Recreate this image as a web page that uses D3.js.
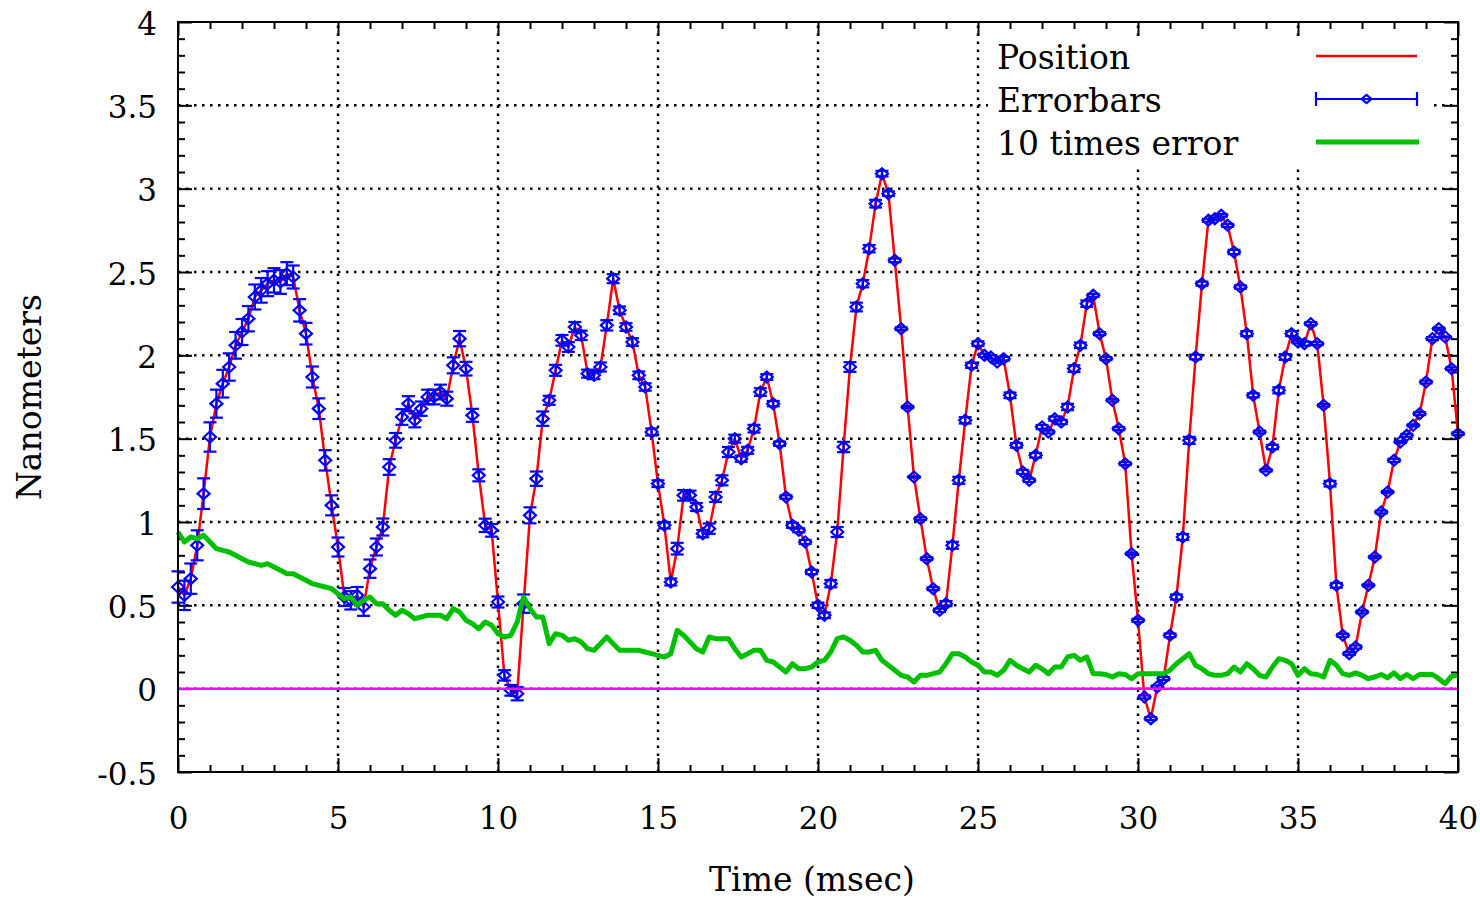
<!DOCTYPE html>
<html>
<head>
<meta charset="utf-8">
<script src="https://cdn.jsdelivr.net/npm/d3@7"></script>
<style>
  html, body { margin: 0; padding: 0; background: #fff; }
  svg { display: block; }
</style>
</head>
<body>
<script>
// ---------------- data ----------------
const timeStep = 0.2; // msec between samples (samples run 0 .. 40 msec)

const position = [
  0.61,0.56,0.66,0.86,1.17,1.51,1.71,1.83,1.93,2.06,
  2.14,2.22,2.35,2.39,2.43,2.45,2.44,2.49,2.47,2.27,
  2.13,1.87,1.68,1.37,1.10,0.85,0.55,0.53,0.56,0.49,
  0.72,0.85,0.97,1.33,1.49,1.63,1.71,1.61,1.68,1.75,
  1.75,1.78,1.74,1.94,2.10,1.92,1.64,1.28,0.98,0.95,
  0.52,0.08,-0.01,-0.03,0.51,1.04,1.26,1.62,1.73,1.91,
  2.09,2.05,2.17,2.12,1.89,1.88,1.93,2.18,2.46,2.27,
  2.17,2.08,1.88,1.81,1.54,1.23,0.98,0.64,0.84,1.16,
  1.16,1.09,0.93,0.96,1.15,1.25,1.42,1.50,1.38,1.43,
  1.56,1.78,1.87,1.71,1.47,1.15,0.98,0.95,0.88,0.70,
  0.50,0.44,0.63,0.94,1.45,1.93,2.29,2.43,2.64,2.91,
  3.09,2.97,2.57,2.16,1.69,1.27,1.02,0.78,0.60,0.47,
  0.51,0.86,1.25,1.61,1.94,2.07,2.00,1.99,1.96,1.98,
  1.76,1.46,1.30,1.25,1.40,1.57,1.54,1.62,1.60,1.69,
  1.92,2.06,2.31,2.36,2.13,1.98,1.73,1.56,1.35,0.81,
  0.41,-0.05,-0.18,0.01,0.06,0.32,0.55,0.91,1.49,1.99,
  2.43,2.81,2.82,2.84,2.78,2.62,2.41,2.13,1.76,1.54,
  1.31,1.45,1.79,1.99,2.13,2.08,2.07,2.19,2.07,1.70,
  1.23,0.62,0.32,0.21,0.25,0.46,0.62,0.79,1.06,1.18,
  1.37,1.48,1.52,1.58,1.65,1.84,2.10,2.16,2.11,1.92,
  1.53
];

// "10 times error" curve (error bars are one tenth of it)
const tenTimesError = [
  0.94,0.88,0.91,0.90,0.92,0.88,0.84,0.83,0.82,0.80,
  0.78,0.76,0.75,0.74,0.75,0.73,0.71,0.69,0.69,0.67,
  0.65,0.63,0.62,0.61,0.60,0.57,0.54,0.55,0.50,0.53,
  0.55,0.51,0.51,0.47,0.44,0.47,0.45,0.42,0.43,0.44,
  0.44,0.44,0.42,0.48,0.46,0.41,0.39,0.36,0.40,0.38,
  0.33,0.31,0.32,0.40,0.55,0.48,0.43,0.43,0.27,0.33,
  0.32,0.29,0.30,0.28,0.24,0.23,0.27,0.31,0.27,0.23,
  0.23,0.23,0.23,0.22,0.21,0.20,0.19,0.21,0.35,0.32,
  0.28,0.24,0.22,0.31,0.30,0.30,0.30,0.24,0.19,0.21,
  0.23,0.23,0.17,0.16,0.13,0.10,0.15,0.12,0.12,0.13,
  0.16,0.17,0.22,0.30,0.31,0.29,0.26,0.22,0.22,0.23,
  0.17,0.14,0.11,0.08,0.07,0.04,0.08,0.08,0.09,0.10,
  0.15,0.21,0.21,0.19,0.16,0.14,0.10,0.10,0.08,0.11,
  0.17,0.14,0.12,0.10,0.14,0.12,0.09,0.13,0.13,0.19,
  0.20,0.17,0.19,0.09,0.09,0.085,0.07,0.09,0.085,0.06,
  0.09,0.09,0.09,0.09,0.09,0.11,0.15,0.18,0.21,0.14,
  0.12,0.09,0.08,0.08,0.09,0.13,0.10,0.15,0.12,0.08,
  0.07,0.13,0.18,0.17,0.15,0.08,0.12,0.09,0.085,0.07,
  0.17,0.14,0.09,0.08,0.095,0.08,0.06,0.07,0.085,0.065,
  0.095,0.06,0.085,0.06,0.085,0.085,0.085,0.06,0.03,0.075,
  0.08
];

const xTicks = [0, 5, 10, 15, 20, 25, 30, 35, 40];
const xTickLabels = ["0", "5", "10", "15", "20", "25", "30", "35", "40"];
const yTicks = [-0.5, 0, 0.5, 1, 1.5, 2, 2.5, 3, 3.5, 4];
const yTickLabels = ["-0.5", "0", "0.5", "1", "1.5", "2", "2.5", "3", "3.5", "4"];
const legendLabels = ["Position", "Errorbars", "10 times error"];
const xTitle = "Time (msec)";
const yTitle = "Nanometers";

// ---------------- layout ----------------
const W = 1480, H = 900;
const L = 178, R = 1458, T = 22, B = 772;
const FONT = "'DejaVu Serif', serif";
const RED = "#ff0000", BLUE = "#0000ff", GREEN = "#00c000", MAGENTA = "#ff00ff";

const data = position.map((v, i) => ({ t: i * timeStep, v, e: tenTimesError[i] / 10, g: tenTimesError[i] }));

const svg = d3.select("body").append("svg").attr("width", W).attr("height", H);
svg.append("rect").attr("width", W).attr("height", H).attr("fill", "#fff");

const x = d3.scaleLinear().domain([0, 40]).range([L, R]);
const y = d3.scaleLinear().domain([-0.5, 4]).range([B, T]);

// ---------------- grid ----------------
const grid = svg.append("g").attr("stroke", "#000").attr("stroke-width", 2.5).attr("stroke-dasharray", "2.5,5.5");
grid.selectAll("line.gx").data(xTicks.filter(d => d > 0 && d < 40)).join("line")
  .attr("x1", d => x(d)).attr("x2", d => x(d)).attr("y1", B).attr("y2", T);
grid.selectAll("line.gy").data(yTicks.filter(d => d > -0.5 && d < 4)).join("line")
  .attr("x1", L).attr("x2", R).attr("y1", d => y(d)).attr("y2", d => y(d));

// legend area is opaque over the grid
svg.append("rect").attr("x", 988).attr("y", 36).attr("width", 442).attr("height", 128).attr("fill", "#fff");

// ---------------- axes (inward ticks) ----------------
const yMinor = d3.range(-5, 41).map(k => k / 10).filter(v => Math.abs(v * 2 - Math.round(v * 2)) > 1e-6);
const xMinor = d3.range(0, 41).filter(v => v % 5 !== 0);

function styleAxis(g) {
  g.select(".domain").remove();
  g.selectAll(".tick line").attr("stroke", "#000").attr("stroke-width", 2);
}

const yLeft = svg.append("g").attr("transform", `translate(${L},0)`)
  .call(d3.axisLeft(y).tickValues(yTicks).tickSize(-14).tickPadding(21)
    .tickFormat(d => yTickLabels[yTicks.indexOf(d)]));
styleAxis(yLeft);
yLeft.selectAll("text").attr("font-family", FONT).attr("font-size", 31).attr("fill", "#000").attr("dy", "0.39em");

svg.append("g").attr("transform", `translate(${L},0)`)
  .call(d3.axisLeft(y).tickValues(yMinor).tickSize(-7).tickFormat(""))
  .call(styleAxis);
svg.append("g").attr("transform", `translate(${R},0)`)
  .call(d3.axisRight(y).tickValues(yTicks).tickSize(-14).tickFormat(""))
  .call(styleAxis);
svg.append("g").attr("transform", `translate(${R},0)`)
  .call(d3.axisRight(y).tickValues(yMinor).tickSize(-7).tickFormat(""))
  .call(styleAxis);

const xBottom = svg.append("g").attr("transform", `translate(0,${B})`)
  .call(d3.axisBottom(x).tickValues(xTicks).tickSize(-14)
    .tickFormat(d => xTickLabels[xTicks.indexOf(d)]));
styleAxis(xBottom);
xBottom.selectAll("text").attr("font-family", FONT).attr("font-size", 31).attr("fill", "#000")
  .attr("y", 57).attr("dy", null);

svg.append("g").attr("transform", `translate(0,${B})`)
  .call(d3.axisBottom(x).tickValues(xMinor).tickSize(-7).tickFormat(""))
  .call(styleAxis);
svg.append("g").attr("transform", `translate(0,${T})`)
  .call(d3.axisTop(x).tickValues(xTicks).tickSize(-14).tickFormat(""))
  .call(styleAxis);
svg.append("g").attr("transform", `translate(0,${T})`)
  .call(d3.axisTop(x).tickValues(xMinor).tickSize(-7).tickFormat(""))
  .call(styleAxis);

// ---------------- series ----------------
const plot = svg.append("g");

// Position line
plot.append("path").datum(data)
  .attr("fill", "none").attr("stroke", RED).attr("stroke-width", 2.5).attr("stroke-linejoin", "round")
  .attr("d", d3.line().x(d => x(d.t)).y(d => y(d.v)));

// Error bars
const capW = 6.5, dW = 6, dH = 5.5;
const eb = plot.append("g").attr("stroke", BLUE).attr("stroke-width", 2.2).attr("fill", "none");
const ebG = eb.selectAll("g").data(data).join("g");
ebG.append("line").attr("x1", d => x(d.t)).attr("x2", d => x(d.t))
  .attr("y1", d => y(d.v - d.e)).attr("y2", d => y(d.v + d.e));
ebG.append("line").attr("x1", d => x(d.t) - capW).attr("x2", d => x(d.t) + capW)
  .attr("y1", d => y(d.v - d.e)).attr("y2", d => y(d.v - d.e));
ebG.append("line").attr("x1", d => x(d.t) - capW).attr("x2", d => x(d.t) + capW)
  .attr("y1", d => y(d.v + d.e)).attr("y2", d => y(d.v + d.e));
ebG.append("path").attr("d", d => {
  const cx = x(d.t), cy = y(d.v);
  return `M${cx - dW},${cy}L${cx},${cy - dH}L${cx + dW},${cy}L${cx},${cy + dH}Z`;
});

// 10 times error
plot.append("path").datum(data)
  .attr("fill", "none").attr("stroke", GREEN).attr("stroke-width", 5).attr("stroke-linejoin", "round")
  .attr("d", d3.line().x(d => x(d.t)).y(d => y(d.g)));

// zero line
plot.append("line").attr("x1", x(0)).attr("x2", x(40)).attr("y1", y(0)).attr("y2", y(0))
  .attr("stroke", MAGENTA).attr("stroke-width", 2.5);

// ---------------- frame ----------------
svg.append("rect").attr("x", L).attr("y", T).attr("width", R - L).attr("height", B - T)
  .attr("fill", "none").attr("stroke", "#000").attr("stroke-width", 2);

// ---------------- titles ----------------
svg.append("text").attr("x", 812).attr("y", 891).attr("text-anchor", "middle")
  .attr("font-family", FONT).attr("font-size", 33).attr("fill", "#000").text(xTitle);
svg.append("text").attr("transform", "translate(41,397) rotate(-90)").attr("text-anchor", "middle")
  .attr("font-family", FONT).attr("font-size", 33).attr("fill", "#000").text(yTitle);

// ---------------- legend ----------------
const legY = [56, 99, 142];
const leg = svg.append("g");
leg.selectAll("text").data(legendLabels).join("text")
  .attr("x", 997).attr("y", (d, i) => legY[i] + 13)
  .attr("font-family", FONT).attr("font-size", 33).attr("fill", "#000").text(d => d);
const lx1 = 1316, lx2 = 1417, lmid = (lx1 + lx2) / 2;
leg.append("line").attr("x1", lx1).attr("x2", lx2).attr("y1", legY[0]).attr("y2", legY[0])
  .attr("stroke", RED).attr("stroke-width", 2.5);
const le = leg.append("g").attr("stroke", BLUE).attr("stroke-width", 2.2).attr("fill", "none");
le.append("line").attr("x1", lx1).attr("x2", lx2).attr("y1", legY[1]).attr("y2", legY[1]);
le.append("line").attr("x1", lx1).attr("x2", lx1).attr("y1", legY[1] - 7).attr("y2", legY[1] + 7);
le.append("line").attr("x1", lx2).attr("x2", lx2).attr("y1", legY[1] - 7).attr("y2", legY[1] + 7);
le.append("path").attr("d", `M${lmid - 5},${legY[1]}L${lmid},${legY[1] - 4}L${lmid + 5},${legY[1]}L${lmid},${legY[1] + 4}Z`);
leg.append("line").attr("x1", lx1).attr("x2", lx2 + 2).attr("y1", legY[2]).attr("y2", legY[2])
  .attr("stroke", GREEN).attr("stroke-width", 5);
</script>
</body>
</html>
